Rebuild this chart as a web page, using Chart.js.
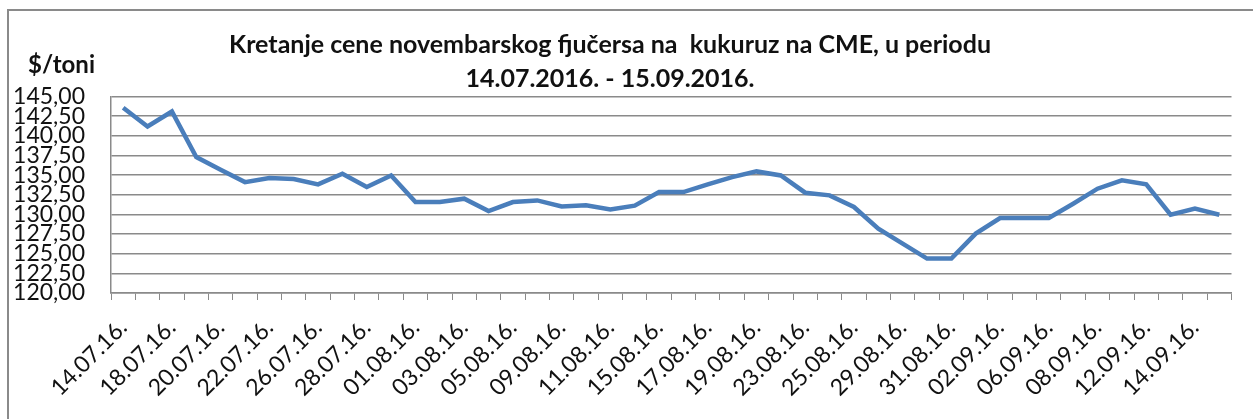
<!DOCTYPE html>
<html>
<head>
<meta charset="utf-8">
<script src="https://cdn.jsdelivr.net/npm/chart.js@4.4.1/dist/chart.umd.min.js"></script>
<style>
  html, body { margin: 0; padding: 0; background: #fff; }
  #wrap { width: 1253px; height: 419px; }
</style>
</head>
<body>
<div id="wrap"><canvas id="chart"></canvas></div>
<script>
// trading days, 14.07.2016 - 15.09.2016 (only every other one is labelled on the axis)
const dates = [
  '14.07.16.', '15.07.16.', '18.07.16.', '19.07.16.', '20.07.16.', '21.07.16.',
  '22.07.16.', '25.07.16.', '26.07.16.', '27.07.16.', '28.07.16.', '29.07.16.',
  '01.08.16.', '02.08.16.', '03.08.16.', '04.08.16.', '05.08.16.', '08.08.16.',
  '09.08.16.', '10.08.16.', '11.08.16.', '12.08.16.', '15.08.16.', '16.08.16.',
  '17.08.16.', '18.08.16.', '19.08.16.', '22.08.16.', '23.08.16.', '24.08.16.',
  '25.08.16.', '26.08.16.', '29.08.16.', '30.08.16.', '31.08.16.', '01.09.16.',
  '02.09.16.', '05.09.16.', '06.09.16.', '07.09.16.', '08.09.16.', '09.09.16.',
  '12.09.16.', '13.09.16.', '14.09.16.', '15.09.16.'
];

// $/toni
const prices = [
  143.56, 141.19, 143.09, 137.29, 135.68, 134.11,
  134.62, 134.49, 133.82, 135.18, 133.48, 134.96,
  131.57, 131.57, 132.00, 130.43, 131.57, 131.78,
  131.02, 131.15, 130.64, 131.11, 132.84, 132.84,
  133.82, 134.75, 135.47, 134.96, 132.76, 132.42,
  130.94, 128.19, 126.29, 124.38, 124.38, 127.56,
  129.54, 129.54, 129.54, 131.36, 133.27, 134.33,
  133.82, 129.96, 130.73, 129.96
];

const titleLines = [
  'Kretanje cene novembarskog fjučersa na  kukuruz na CME, u periodu',
  '14.07.2016. - 15.09.2016.'
];
const unitLabel = '$/toni';

const yMin = 120;
const yMax = 145;
const yStep = 2.5;

// frame around the chart + the unit text above the value axis
const frame = {
  id: 'frame',
  beforeDraw(chart) {
    const ctx = chart.ctx;
    ctx.save();
    ctx.strokeStyle = '#8a8a8a';
    ctx.lineWidth = 2;
    ctx.strokeRect(8, 10, chart.width + 20, chart.height + 20);
    ctx.restore();
  },
  afterDraw(chart) {
    const ctx = chart.ctx;
    const area = chart.chartArea;
    ctx.save();
    ctx.font = 'bold 24px Lato';
    ctx.fillStyle = '#111';
    ctx.textBaseline = 'alphabetic';
    ctx.fillText(unitLabel, area.left - 83, area.top - 24);
    ctx.restore();
  }
};

new Chart(document.getElementById('chart'), {
  type: 'line',
  data: {
    labels: dates,
    datasets: [{
      data: prices,
      borderColor: '#4a7ebb',
      borderWidth: 4.5,
      pointRadius: 0,
      fill: false,
      tension: 0
    }]
  },
  options: {
    responsive: true,
    maintainAspectRatio: false,
    animation: false,
    // negative left padding only moves the centred title a bit to the left
    layout: { padding: { left: -18, right: 15, top: 0, bottom: 0 } },
    plugins: {
      legend: { display: false },
      tooltip: { enabled: false },
      title: {
        display: true,
        text: titleLines,
        color: '#111',
        font: { family: 'Lato', size: 25, weight: 'bold', lineHeight: 1.35 },
        padding: { top: 28, bottom: 1 }
      }
    },
    scales: {
      x: {
        offset: true,
        afterFit(scale) {
          scale.paddingLeft = 0;
          scale.height = 126;
        },
        grid: {
          display: true,
          drawOnChartArea: false,
          offset: true,
          color: '#8a8a8a',
          tickLength: 7
        },
        border: { color: '#8a8a8a', width: 1.5 },
        ticks: {
          autoSkip: false,
          maxRotation: 45,
          minRotation: 45,
          padding: 14,
          color: '#111',
          font: { family: 'Lato', size: 23 },
          callback: (v, i) => (i % 2 === 0 ? dates[i] : '')
        }
      },
      y: {
        min: yMin,
        max: yMax,
        afterFit(scale) {
          scale.width = 129;
        },
        grid: { color: '#8a8a8a', lineWidth: 1.5, drawTicks: false },
        border: { color: '#8a8a8a', width: 1.5 },
        ticks: {
          autoSkip: false,
          stepSize: yStep,
          padding: 26,
          color: '#111',
          font: { family: 'Lato', size: 23, lineHeight: 0.9 },
          callback: v => v.toFixed(2).replace('.', ',')
        }
      }
    }
  },
  plugins: [frame]
});
</script>
</body>
</html>
